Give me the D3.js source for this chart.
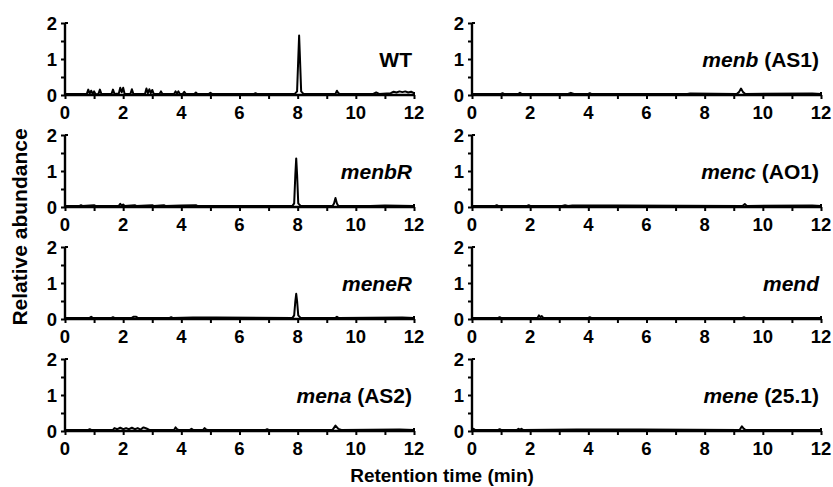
<!DOCTYPE html>
<html>
<head>
<meta charset="utf-8">
<script src="https://cdn.jsdelivr.net/npm/d3@7"></script>
<style>
  body { margin: 0; background: #fff; }
  svg text { font-family: "Liberation Sans", Arial, sans-serif; font-weight: bold; fill: #000; }
  .trace { fill: none; stroke: #000; stroke-width: 2; stroke-linejoin: round; }
</style>
</head>
<body>
<svg width="833" height="487"></svg>
<script>
// tick values
const xTicks = [0, 1, 2, 3, 4, 5, 6, 7, 8, 9, 10, 11, 12]
const xLabels = [0, 2, 4, 6, 8, 10, 12]
const yTicks = [0, 0.5, 1, 1.5, 2]
const yLabels = [0, 1, 2]

// panel names: [italic part, plain part]
const panelNames = [
  ["", "WT"], ["menbR", ""], ["meneR", ""], ["mena", " (AS2)"],
  ["menb", " (AS1)"], ["menc", " (AO1)"], ["mend", ""], ["mene", " (25.1)"]
]

// traces, [time (min), relative abundance]
const traceWT = [[0,0.03],[0.6,0.03],[0.75,0.03],[0.8,0.15],[0.85,0.04],[0.9,0.12],[0.95,0.03],[1.0,0.1],[1.05,0.02],[1.15,0.03],[1.2,0.15],[1.25,0.03],[1.6,0.03],[1.65,0.15],[1.7,0.03],[1.85,0.04],[1.9,0.2],[1.95,0.08],[2.0,0.2],[2.05,0.03],[2.25,0.03],[2.3,0.16],[2.35,0.03],[2.75,0.03],[2.8,0.18],[2.85,0.05],[2.9,0.16],[2.95,0.05],[3.0,0.14],[3.05,0.03],[3.25,0.03],[3.3,0.1],[3.35,0.03],[3.75,0.03],[3.8,0.1],[3.85,0.04],[3.9,0.1],[3.95,0.03],[4.05,0.03],[4.1,0.09],[4.15,0.03],[4.45,0.03],[4.5,0.07],[4.55,0.03],[4.95,0.03],[5.0,0.06],[5.05,0.03],[6.5,0.03],[6.55,0.05],[6.6,0.03],[7.9,0.03],[7.98,0.1],[8.02,1.0],[8.05,1.65],[8.08,1.0],[8.12,0.1],[8.2,0.03],[9.3,0.03],[9.35,0.12],[9.4,0.05],[9.45,0.03],[10.6,0.03],[10.7,0.07],[10.8,0.03],[11.2,0.05],[11.3,0.09],[11.4,0.07],[11.5,0.1],[11.6,0.08],[11.7,0.1],[11.8,0.07],[11.9,0.09],[12,0.05]]
const traceMenbR = [[0,0.03],[0.5,0.03],[0.55,0.05],[0.6,0.03],[1.0,0.05],[1.05,0.03],[1.85,0.03],[1.9,0.09],[1.95,0.04],[2.0,0.07],[2.05,0.03],[2.4,0.05],[2.45,0.03],[3.0,0.05],[3.05,0.03],[3.4,0.05],[3.45,0.03],[4.0,0.04],[4.5,0.05],[4.55,0.03],[7.82,0.03],[7.88,0.1],[7.92,0.9],[7.95,1.35],[7.98,0.9],[8.02,0.1],[8.1,0.03],[9.2,0.03],[9.25,0.1],[9.3,0.25],[9.35,0.1],[9.4,0.03],[10.5,0.03],[11.0,0.04],[12,0.03]]
const traceMeneR = [[0,0.03],[0.85,0.03],[0.9,0.06],[0.95,0.03],[1.6,0.03],[1.65,0.05],[1.7,0.03],[2.3,0.03],[2.35,0.06],[2.45,0.06],[2.5,0.03],[3.6,0.03],[3.65,0.05],[3.7,0.03],[4.4,0.04],[5.2,0.04],[7.82,0.03],[7.88,0.1],[7.92,0.5],[7.95,0.7],[7.98,0.5],[8.02,0.1],[8.1,0.03],[9.3,0.03],[9.35,0.06],[9.4,0.03],[11.6,0.04],[12,0.03]]
const traceMena = [[0,0.03],[0.8,0.03],[0.85,0.05],[0.9,0.03],[1.65,0.03],[1.7,0.08],[1.8,0.05],[1.9,0.09],[2.0,0.05],[2.1,0.08],[2.2,0.05],[2.3,0.09],[2.4,0.05],[2.5,0.08],[2.6,0.04],[2.7,0.1],[2.8,0.07],[2.9,0.03],[3.75,0.03],[3.8,0.1],[3.85,0.05],[3.9,0.03],[4.3,0.03],[4.35,0.06],[4.4,0.03],[4.75,0.03],[4.8,0.08],[4.85,0.04],[4.9,0.03],[6.9,0.03],[6.95,0.05],[7.0,0.03],[9.2,0.03],[9.3,0.15],[9.4,0.06],[9.5,0.03],[11.5,0.04],[12,0.03]]
const traceMenb = [[0,0.03],[1.0,0.03],[1.05,0.05],[1.1,0.03],[1.6,0.03],[1.65,0.06],[1.7,0.03],[3.3,0.03],[3.4,0.06],[3.5,0.03],[4.0,0.03],[4.05,0.05],[4.1,0.03],[7.4,0.03],[7.5,0.04],[9.1,0.03],[9.18,0.08],[9.25,0.18],[9.32,0.08],[9.4,0.03],[11.7,0.04],[12,0.03]]
const traceMenc = [[0,0.03],[0.8,0.03],[0.85,0.05],[0.9,0.03],[1.9,0.03],[1.95,0.05],[2.0,0.03],[3.1,0.03],[3.2,0.05],[3.3,0.03],[3.45,0.04],[5.0,0.04],[9.3,0.03],[9.38,0.08],[9.45,0.03],[11.7,0.04],[12,0.03]]
const traceMend = [[0,0.03],[0.9,0.03],[0.95,0.05],[1.0,0.03],[2.25,0.03],[2.3,0.1],[2.35,0.05],[2.4,0.08],[2.45,0.03],[4.0,0.03],[4.05,0.05],[4.1,0.03],[9.3,0.03],[9.35,0.05],[9.4,0.03],[12,0.03]]
const traceMene = [[0,0.03],[0.05,0.06],[0.1,0.03],[0.9,0.03],[0.95,0.05],[1.0,0.03],[1.55,0.03],[1.6,0.06],[1.65,0.03],[1.7,0.06],[1.75,0.03],[3.6,0.04],[5.8,0.04],[9.2,0.03],[9.28,0.13],[9.35,0.06],[9.4,0.03],[12,0.03]]

const traces = [traceWT, traceMenbR, traceMeneR, traceMena, traceMenb, traceMenc, traceMend, traceMene]

const svg = d3.select("svg")
const colLeft = [65, 472]
const plotW = 349
const rowZero = [95, 207, 319, 431]
const plotH = 72

traces.forEach(function(data, i) {
  const col = Math.floor(i / 4), row = i % 4
  const x = d3.scaleLinear().domain([0, 12]).range([colLeft[col], colLeft[col] + plotW])
  const y = d3.scaleLinear().domain([0, 2]).range([rowZero[row], rowZero[row] - plotH])
  const g = svg.append("g")

  // trace
  const line = d3.line().x(d => x(d[0])).y(d => y(d[1]))
  g.append("path").attr("class", "trace").datum(data).attr("d", line)

  // x axis
  const xAxis = d3.axisBottom(x).tickValues(xTicks).tickSize(4).tickFormat("")
  const xg = g.append("g").attr("transform", `translate(0, ${y(0)})`).call(xAxis)
  xg.select(".domain").attr("d", `M${x(0)},0H${x(12)}`).attr("stroke-width", 2.4)
  xg.selectAll(".tick line").attr("stroke-width", 2)
  xg.append("line").attr("x1", x(12)).attr("x2", x(12)).attr("y1", -3).attr("y2", 0).attr("stroke", "#000").attr("stroke-width", 2)
  g.selectAll(".xlab").data(xLabels).enter().append("text")
    .attr("x", d => x(d)).attr("y", y(0) + 24)
    .attr("text-anchor", "middle").attr("font-size", 18.5).text(d => d)

  // y axis
  const yAxis = d3.axisLeft(y).tickValues(yTicks).tickSize(4).tickFormat("")
  const yg = g.append("g").attr("transform", `translate(${x(0)}, 0)`).call(yAxis)
  yg.select(".domain").attr("d", `M0,${y(2)}V${y(0)}`).attr("stroke-width", 2.4)
  yg.selectAll(".tick line").attr("stroke-width", 2)
  yg.append("line").attr("x1", 0).attr("x2", 3).attr("y1", y(2)).attr("y2", y(2)).attr("stroke", "#000").attr("stroke-width", 2)
  g.selectAll(".ylab").data(yLabels).enter().append("text")
    .attr("x", x(0) - 8).attr("y", d => y(d) + 6.5)
    .attr("text-anchor", "end").attr("font-size", 18.5).text(d => d)

  // panel name
  const name = g.append("text").attr("x", x(12) - 2).attr("y", y(0) - 28)
    .attr("text-anchor", "end").attr("font-size", 21)
  name.append("tspan").attr("font-style", "italic").text(panelNames[i][0])
  name.append("tspan").text(panelNames[i][1])
})

svg.append("text").attr("transform", "translate(27, 227) rotate(-90)")
  .attr("text-anchor", "middle").attr("font-size", 21).text("Relative abundance")

svg.append("text").attr("x", 442).attr("y", 482)
  .attr("text-anchor", "middle").attr("font-size", 19).text("Retention time (min)")
</script>
</body>
</html>
